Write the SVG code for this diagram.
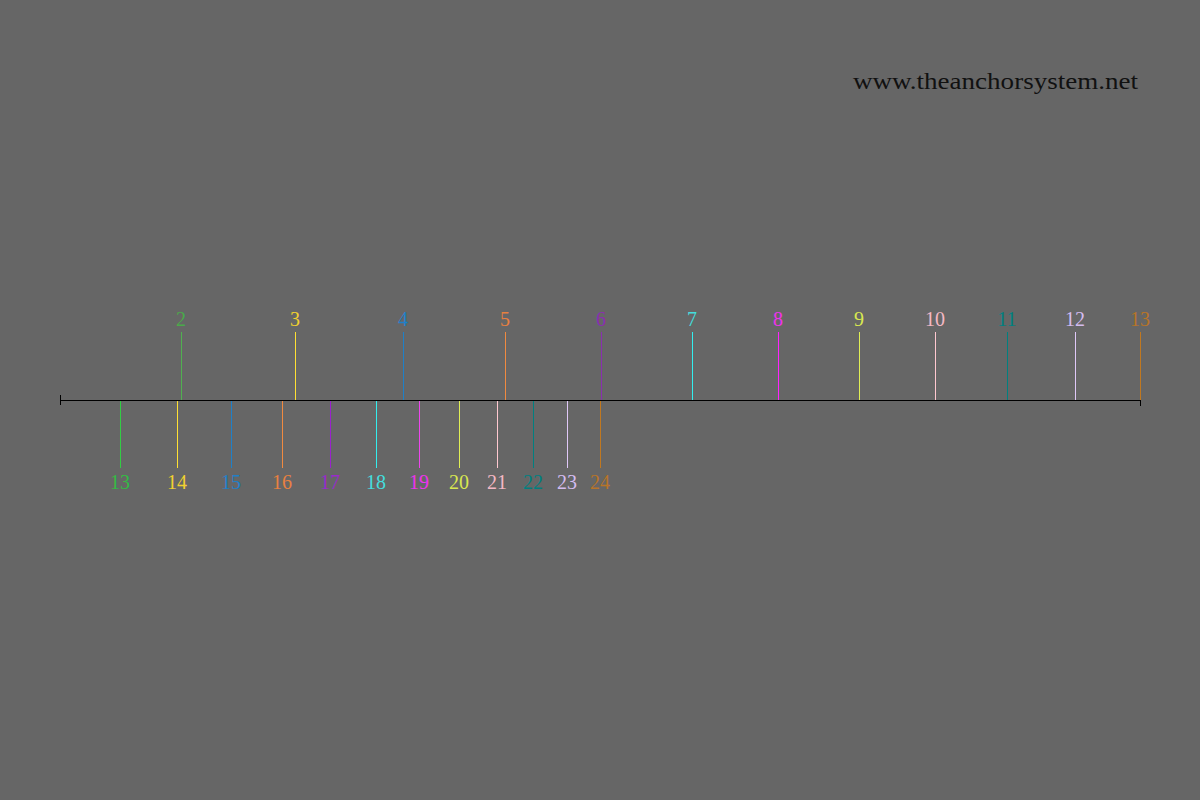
<svg xmlns="http://www.w3.org/2000/svg" width="1200" height="800" viewBox="0 0 1200 800">
<style>
text{font-family:"Liberation Serif","DejaVu Serif",serif;font-size:20px;text-anchor:middle}
.t line{stroke-width:1}
.url{font-size:23px;text-anchor:end;fill:#111111}
</style>
<rect width="1200" height="800" fill="#666666"/>
<text class="url" x="1138" y="89" textLength="285" lengthAdjust="spacingAndGlyphs">www.theanchorsystem.net</text>
<g id="connectors" class="t">
<line x1="60" y1="400.5" x2="1141" y2="400.5" stroke="#000000"/>
<line x1="60.5" y1="395" x2="60.5" y2="405" stroke="#000000"/>
<line x1="1140.5" y1="395" x2="1140.5" y2="406" stroke="#000000"/>
</g>
<g id="up2" class="t"><line x1="181.5" y1="332" x2="181.5" y2="400" stroke="#50b050"/><text x="181" y="326" fill="#4aaa4a">2</text></g>
<g id="up3" class="t"><line x1="295.5" y1="332" x2="295.5" y2="400" stroke="#ffe033"/><text x="295" y="326" fill="#f0d030">3</text></g>
<g id="up4" class="t"><line x1="403.5" y1="332" x2="403.5" y2="400" stroke="#1f80c8"/><text x="403" y="326" fill="#1f80c8">4</text></g>
<g id="up5" class="t"><line x1="505.5" y1="332" x2="505.5" y2="400" stroke="#f08a40"/><text x="505" y="326" fill="#e88040">5</text></g>
<g id="up6" class="t"><line x1="601.5" y1="332" x2="601.5" y2="400" stroke="#8a2fb0"/><text x="601" y="326" fill="#8a2fb0">6</text></g>
<g id="up7" class="t"><line x1="692.5" y1="332" x2="692.5" y2="400" stroke="#33eeee"/><text x="692" y="326" fill="#44dddd">7</text></g>
<g id="up8" class="t"><line x1="778.5" y1="332" x2="778.5" y2="400" stroke="#ff22ff"/><text x="778" y="326" fill="#ee33ee">8</text></g>
<g id="up9" class="t"><line x1="859.5" y1="332" x2="859.5" y2="400" stroke="#e0ee55"/><text x="859" y="326" fill="#d8e850">9</text></g>
<g id="up10" class="t"><line x1="935.5" y1="332" x2="935.5" y2="400" stroke="#ffc8d0"/><text x="935" y="326" fill="#f4b8c4">10</text></g>
<g id="up11" class="t"><line x1="1007.5" y1="332" x2="1007.5" y2="400" stroke="#008080"/><text x="1007" y="326" fill="#008080">11</text></g>
<g id="up12" class="t"><line x1="1075.5" y1="332" x2="1075.5" y2="400" stroke="#e0c8f8"/><text x="1075" y="326" fill="#d4bcf0">12</text></g>
<g id="up13" class="t"><line x1="1140.5" y1="332" x2="1140.5" y2="400" stroke="#c07820"/><text x="1140" y="326" fill="#b87428">13</text></g>
<g id="dn13" class="t"><line x1="120.5" y1="401" x2="120.5" y2="468" stroke="#33cc44"/><text x="120" y="489" fill="#33bb44">13</text></g>
<g id="dn14" class="t"><line x1="177.5" y1="401" x2="177.5" y2="468" stroke="#ffe033"/><text x="177" y="489" fill="#f0d030">14</text></g>
<g id="dn15" class="t"><line x1="231.5" y1="401" x2="231.5" y2="468" stroke="#1f80c8"/><text x="231" y="489" fill="#1f80c8">15</text></g>
<g id="dn16" class="t"><line x1="282.5" y1="401" x2="282.5" y2="468" stroke="#f08a40"/><text x="282" y="489" fill="#e88040">16</text></g>
<g id="dn17" class="t"><line x1="330.5" y1="401" x2="330.5" y2="468" stroke="#9a22cc"/><text x="330" y="489" fill="#9a2acc">17</text></g>
<g id="dn18" class="t"><line x1="376.5" y1="401" x2="376.5" y2="468" stroke="#33eeee"/><text x="376" y="489" fill="#44dddd">18</text></g>
<g id="dn19" class="t"><line x1="419.5" y1="401" x2="419.5" y2="468" stroke="#ee44ee"/><text x="419" y="489" fill="#ee33ee">19</text></g>
<g id="dn20" class="t"><line x1="459.5" y1="401" x2="459.5" y2="468" stroke="#e0ee55"/><text x="459" y="489" fill="#d8e850">20</text></g>
<g id="dn21" class="t"><line x1="497.5" y1="401" x2="497.5" y2="468" stroke="#ffc8d0"/><text x="497" y="489" fill="#f4b8c4">21</text></g>
<g id="dn22" class="t"><line x1="533.5" y1="401" x2="533.5" y2="468" stroke="#008080"/><text x="533" y="489" fill="#008080">22</text></g>
<g id="dn23" class="t"><line x1="567.5" y1="401" x2="567.5" y2="468" stroke="#e0c8f8"/><text x="567" y="489" fill="#d4bcf0">23</text></g>
<g id="dn24" class="t"><line x1="600.5" y1="401" x2="600.5" y2="468" stroke="#c07820"/><text x="600" y="489" fill="#b87428">24</text></g>
</svg>
